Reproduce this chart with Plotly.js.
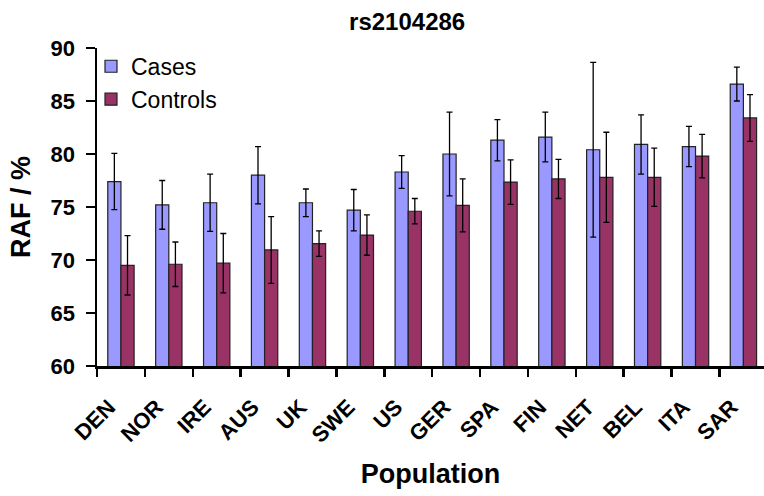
<!DOCTYPE html>
<html>
<head>
<meta charset="utf-8">
<script src="https://cdn.plot.ly/plotly-3.0.1.min.js"></script>
<style>html,body{margin:0;padding:0;background:#fff;}#chart{width:764px;height:496px;}</style>
</head>
<body>
<div id="chart"></div>
<script>
var populations = ["DEN","NOR","IRE","AUS","UK","SWE","US","GER","SPA","FIN","NET","BEL","ITA","SAR"];
var casesRAF    = [77.4, 75.2, 75.4, 78.0, 75.4, 74.7, 78.3, 80.0, 81.3, 81.6, 80.4, 80.9, 80.7, 86.6];
var casesErr    = [2.65, 2.3, 2.7, 2.7, 1.3, 1.95, 1.55, 3.95, 1.95, 2.35, 8.25, 2.8, 1.9, 1.6];
var controlsRAF = [69.5, 69.6, 69.7, 70.95, 71.55, 72.35, 74.6, 75.15, 77.35, 77.65, 77.8, 77.8, 79.8, 83.4];
var controlsErr = [2.8, 2.1, 2.8, 3.15, 1.2, 1.9, 1.2, 2.5, 2.1, 1.85, 4.25, 2.75, 2.05, 2.2];

var FONT = "Liberation Sans, Arial, sans-serif";

var traces = [
  {
    type: "bar", name: "Cases", x: populations, y: casesRAF,
    marker: {color: "#9999FF", line: {color: "#222222", width: 1.2}},
    error_y: {type: "data", array: casesErr, visible: true, color: "#000000", thickness: 1.3, width: 3}
  },
  {
    type: "bar", name: "Controls", x: populations, y: controlsRAF,
    marker: {color: "#993366", line: {color: "#222222", width: 1.2}},
    error_y: {type: "data", array: controlsErr, visible: true, color: "#000000", thickness: 1.3, width: 3}
  }
];

var layout = {
  width: 764, height: 496,
  margin: {l: 97, r: 0, t: 48, b: 130},
  paper_bgcolor: "#ffffff", plot_bgcolor: "#ffffff",
  barmode: "group", bargap: 0.45, bargroupgap: 0,
  showlegend: true,
  font: {family: FONT, color: "#000000"},
  title: {
    text: "<b>rs2104286</b>", font: {family: FONT, size: 24, color: "#000"},
    xref: "paper", x: 0.465, xanchor: "center",
    yref: "container", y: 1 - 22/496, yanchor: "middle"
  },
  legend: {
    x: -0.009, y: 1.01, xanchor: "left", yanchor: "top",
    bgcolor: "rgba(0,0,0,0)", font: {family: FONT, size: 23, color: "#000"},
    itemwidth: 30, tracegroupgap: 0
  },
  xaxis: {
    type: "category", range: [-0.5, 13.43],
    showline: true, linecolor: "#000", linewidth: 2.5,
    ticks: "outside", tickson: "boundaries", ticklen: 8, tickwidth: 2.5, tickcolor: "#000",
    tickangle: -45, tickfont: {family: FONT, size: 22, color: "#000", weight: "bold"},
    ticklabelstandoff: 17, ticklabelshift: -12,
    showgrid: false, zeroline: false,
    title: {text: "<b>Population</b>", font: {family: FONT, size: 27, color: "#000"}, standoff: 18}
  },
  yaxis: {
    range: [60, 90], tickvals: [60, 65, 70, 75, 80, 85, 90],
    showline: true, linecolor: "#000", linewidth: 2.5,
    ticks: "outside", ticklen: 9, tickwidth: 2.5, tickcolor: "#000",
    tickfont: {family: FONT, size: 22, color: "#000", weight: "bold"},
    ticklabelstandoff: 6,
    showgrid: false, zeroline: false,
    title: {text: "<b>RAF / %</b>", font: {family: FONT, size: 27, color: "#000"}, standoff: 12}
  }
};

Plotly.newPlot("chart", traces, layout, {displayModeBar: false, staticPlot: true});
</script>
</body>
</html>
